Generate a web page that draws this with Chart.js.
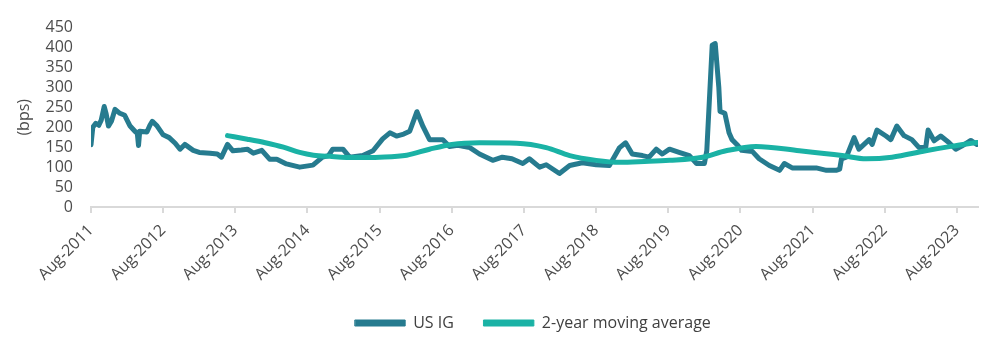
<!DOCTYPE html>
<html>
<head>
<meta charset="utf-8">
<script src="https://cdn.jsdelivr.net/npm/chart.js@4"></script>
<style>
  html, body { margin: 0; padding: 0; background: #fff; }
  #wrap { width: 1004px; height: 347px; }
</style>
</head>
<body>
<div id="wrap"><canvas id="spreadChart"></canvas></div>
<script>
// Data (x = months since Aug-2011)
const yearLabels = ["Aug-2011", "Aug-2012", "Aug-2013", "Aug-2014", "Aug-2015", "Aug-2016",
  "Aug-2017", "Aug-2018", "Aug-2019", "Aug-2020", "Aug-2021", "Aug-2022", "Aug-2023"];
const yTicks = [0, 50, 100, 150, 200, 250, 300, 350, 400, 450];

const usIgMonths = [
  0, 0.3, 0.8, 1.3, 1.7, 2.2, 2.5, 2.9, 3.4, 4.0, 4.8, 5.6, 6.5, 7.3, 7.7, 7.9, 8.1, 9.3, 9.8, 10.2,
  11, 12, 13, 14, 14.8, 15.6, 17, 18, 19.8, 21, 21.7, 22.7, 23.6, 25, 26, 27, 28.4, 29.7, 30.9, 32.5,
  34.7, 36.9, 38.5, 39.5, 40.2, 41.9, 43, 45.2, 46.9, 48.5, 49.7, 50.8, 52, 53, 54.2, 55.2, 56.3, 58.5,
  59.6, 61, 63, 64.6, 66.8, 68.4, 70, 71.8, 72.9, 74.6, 75.7, 77.9, 79.6, 81.7, 84, 86.2, 87.9, 88.9,
  90, 91.7, 92.8, 94, 95, 96.2, 97.8, 99.5, 100.7, 102, 102.4, 103.3, 103.8, 104.4, 104.6, 105.4, 106.1,
  106.6, 107.4, 108.2, 110, 111.1, 112.8, 114.5, 115.3, 116.6, 118.9, 120.6, 122.3, 123.9, 124.5, 124.8,
  125.6, 126.9, 127.7, 129.4, 129.9, 130.7, 132.2, 133, 134, 135.2, 136.5, 137.7, 138.8, 139.2, 140.2,
  141.3, 142.7, 143.8, 144.8, 146.3, 147.3
];
const usIgValues = [
  156, 200, 210, 205, 218, 252, 235, 203, 215, 245, 235, 230, 203, 190, 185, 154, 190, 188, 205, 215,
  203, 181, 174, 160, 145, 157, 142, 137, 135, 133, 125, 157, 141, 143, 145, 135, 142, 120, 120, 108,
  100, 105, 125, 129, 145, 145, 125, 129, 141, 171, 186, 178, 183, 190, 239, 202, 169, 169,
  152, 155, 149, 133, 117, 125, 121, 109, 121, 100, 106, 84, 104, 111, 106, 104, 149, 161,
  133, 129, 125, 145, 133, 145, 137, 129, 109, 109, 141, 406, 410, 300, 240, 235, 186,
  169, 157, 142, 139, 121, 104, 92, 109, 98, 98, 98, 92, 92, 95, 121,
  125, 174, 145, 169, 157, 193, 178, 169, 203, 179, 169, 149, 149, 193, 166,
  178, 161, 145, 153, 167, 157
];

const maMonths = [22.7, 26, 29, 32, 34.7, 37, 39.7, 44, 48, 52.5, 56.3, 60, 64.6, 70.8, 75.7, 79.6,
  84, 87.9, 92, 96.2, 101.7, 105.6, 110.6, 117.8, 124.9, 128.9, 133.2, 138.8, 143, 147.3];
const maValues = [179, 170, 161, 150, 137, 130, 127, 124, 125, 130, 145, 157, 161, 160, 149, 129,
  117, 112, 114, 117, 125, 141, 152, 141, 129, 121, 125, 141, 152, 162];

const toPoints = (xs, ys) => xs.map((x, i) => ({ x: x, y: ys[i] }));

const textColor = "#4d4d4d";
const axisColor = "#d9d9d9";
Chart.defaults.font.family = "'Open Sans', sans-serif";
Chart.defaults.font.size = 16;
Chart.defaults.color = textColor;

const legendDefaults = Chart.defaults.plugins.legend.labels.generateLabels;

// legend sits a bit right of centre in the original
const legendShift = {
  id: "legendShift",
  afterLayout: function (chart) {
    chart.legend.left += 44;
    chart.legend.right += 44;
  },
};

new Chart(document.getElementById("spreadChart"), {
  type: "line",
  data: {
    datasets: [
      {
        label: "US IG",
        data: toPoints(usIgMonths, usIgValues),
        borderColor: "#267b8f",
        backgroundColor: "#267b8f",
        borderWidth: 5,
        pointRadius: 0,
        borderJoinStyle: "round",
        borderCapStyle: "round",
        order: 1,
      },
      {
        label: "2-year moving average",
        data: toPoints(maMonths, maValues),
        borderColor: "#1ab2a5",
        backgroundColor: "#1ab2a5",
        borderWidth: 5,
        pointRadius: 0,
        cubicInterpolationMode: "monotone",
        borderCapStyle: "round",
        order: 0,
      },
    ],
  },
  plugins: [legendShift],
  options: {
    responsive: true,
    maintainAspectRatio: false,
    animation: false,
    layout: { padding: { top: 12, right: 26, left: 0, bottom: 6 } },
    plugins: {
      legend: {
        position: "bottom",
        labels: {
          boxWidth: 50,
          boxHeight: 6,
          padding: 30,
          color: "#404040",
          sort: (a, b) => a.datasetIndex - b.datasetIndex,
          generateLabels: function (chart) {
            return legendDefaults(chart).map(function (item) {
              item.lineWidth = 1;
              return item;
            });
          },
        },
      },
      tooltip: { enabled: false },
    },
    scales: {
      x: {
        type: "linear",
        min: 0,
        max: 147.5,
        afterBuildTicks: function (scale) {
          scale.ticks = yearLabels.map((_, i) => ({ value: i * 12 }));
        },
        afterFit: function (scale) {
          scale.height = 78;
        },
        ticks: {
          autoSkip: false,
          minRotation: 45,
          maxRotation: 45,
          padding: 8,
          callback: function (value) {
            return yearLabels[Math.round(value / 12)];
          },
        },
        grid: {
          drawOnChartArea: false,
          drawTicks: true,
          tickLength: 6,
          color: axisColor,
          lineWidth: 2,
        },
        border: { display: true, color: axisColor, width: 2 },
      },
      y: {
        min: 0,
        max: 450,
        afterBuildTicks: function (scale) {
          scale.ticks = yTicks.map((v) => ({ value: v }));
        },
        afterFit: function (scale) {
          scale.width = 91;
        },
        ticks: { padding: 18, autoSkip: false },
        grid: { display: false, drawTicks: false },
        border: { display: false },
        title: {
          display: true,
          text: "(bps)",
          padding: { top: 15, bottom: 0 },
        },
      },
    },
  },
});
</script>
</body>
</html>
